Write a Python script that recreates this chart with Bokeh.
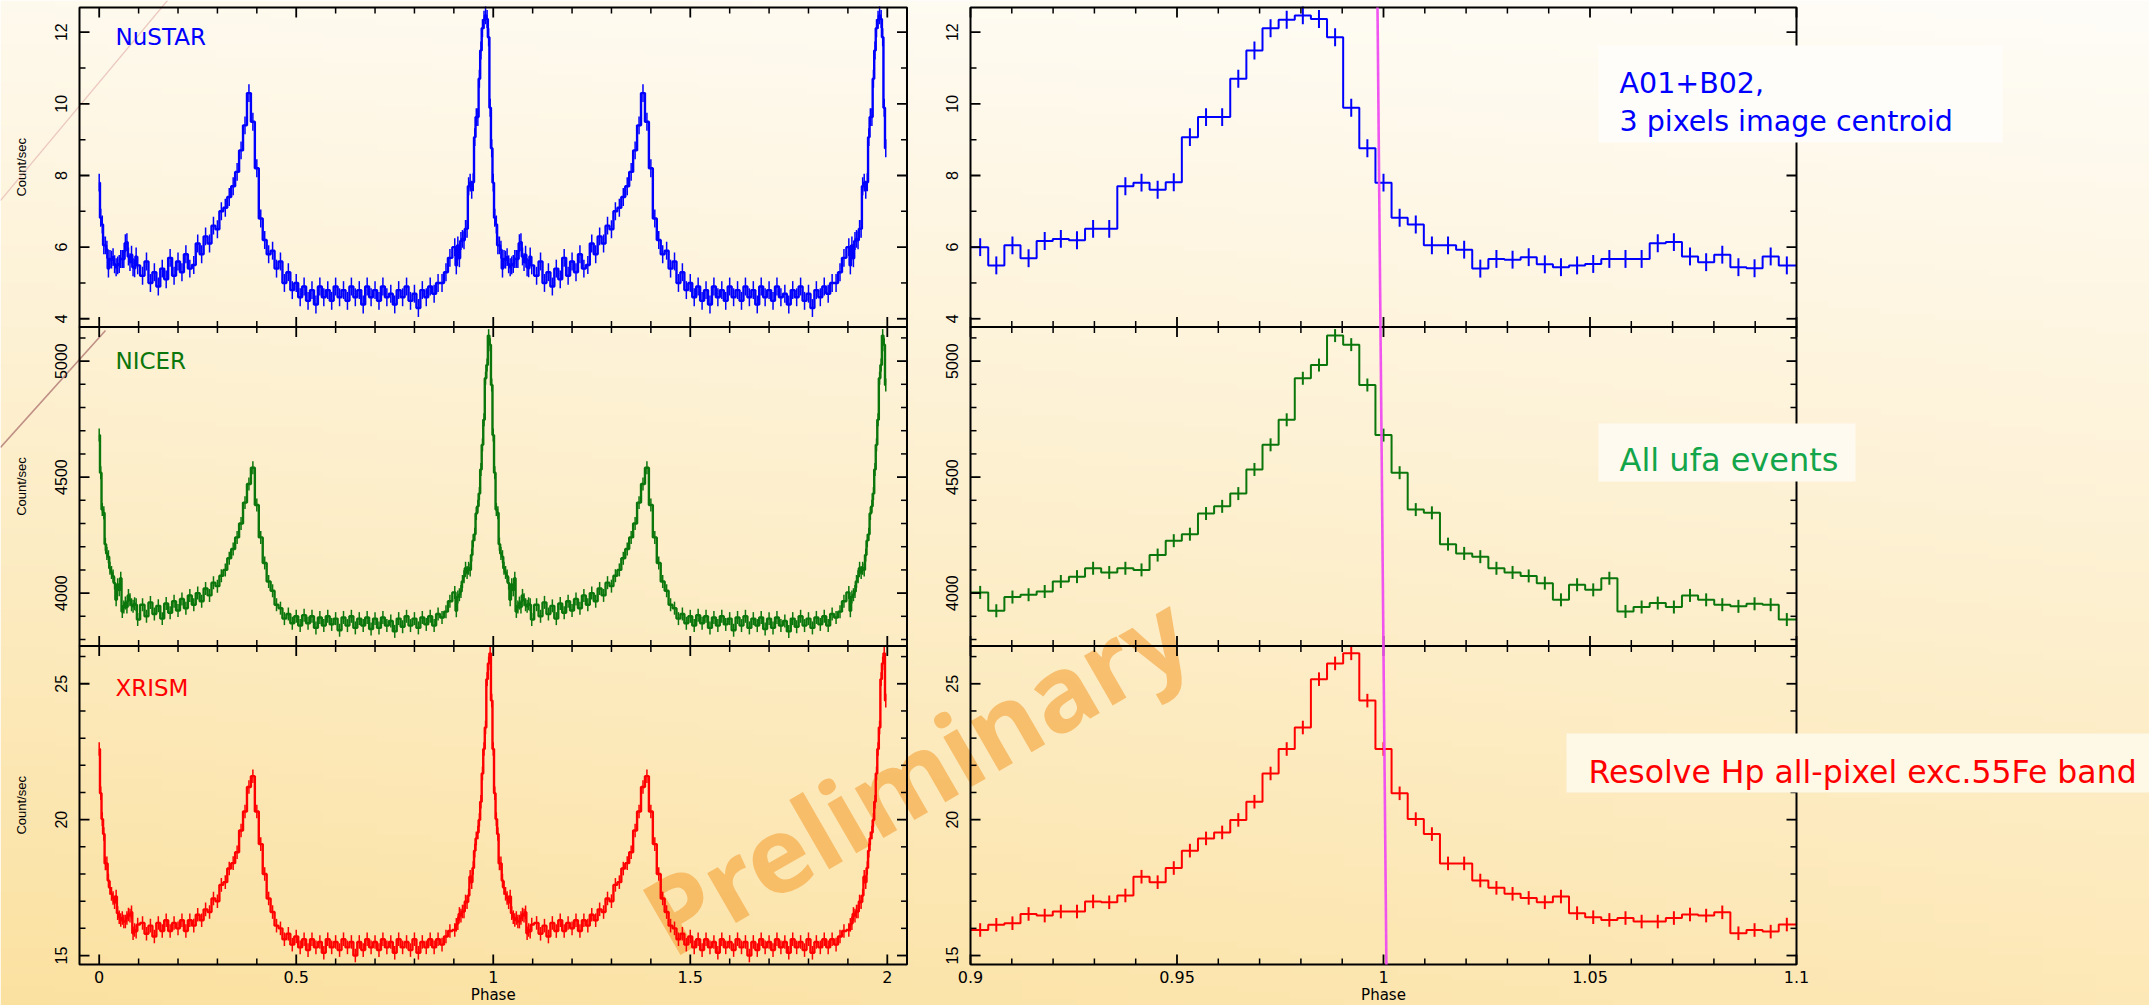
import math
import numpy as np
from bokeh.plotting import figure
from bokeh.models import Range1d
from bokeh.core.properties import value
from bokeh.embed import file_html
from bokeh.resources import INLINE

# ---------------- data ----------------
# Folded light curves, 256 phase bins per cycle (bins centred on k/256).
# Right-hand panels: bins k = 231 ... 281 (phase 0.90 - 1.10).
zoom_bin = np.arange(231, 282)
zoom_phase = zoom_bin / 256.0

nustar_zoom = [6.00, 5.49, 6.05, 5.69, 6.17, 6.23, 6.19, 6.51, 6.51, 7.70,
               7.80, 7.60, 7.81, 9.07, 9.63, 9.63, 10.70, 11.49, 12.11, 12.35,
               12.47, 12.37, 11.86, 9.89, 8.76, 7.80,
               6.82, 6.63, 6.05, 6.05, 5.93, 5.40, 5.67, 5.65, 5.72, 5.52,
               5.44, 5.49, 5.53, 5.67, 5.67, 5.67, 6.11, 6.14, 5.74, 5.58,
               5.79, 5.44, 5.41, 5.74, 5.49]
nicer_zoom = [4003, 3924, 3983, 3993, 4007, 4050, 4071, 4107, 4089, 4107,
              4100, 4164, 4226, 4254, 4343, 4374, 4429, 4533, 4639, 4747,
              4926, 4983, 5110, 5071, 4897, 4681,
              4519, 4360, 4346, 4211, 4171, 4157, 4107, 4089, 4074, 4043,
              3971, 4036, 4014, 4064, 3921, 3940, 3957, 3940, 3990, 3971,
              3950, 3943, 3954, 3950, 3886]
xrism_zoom = [15.94, 16.13, 16.19, 16.53, 16.47, 16.62, 16.62, 16.99, 16.96, 17.21,
              17.90, 17.70, 18.22, 18.86, 19.31, 19.53, 19.99, 20.66, 21.70, 22.60,
              23.39, 25.17, 25.75, 26.12, 24.38, 22.60,
              20.97, 20.02, 19.47, 18.39, 18.39, 17.76, 17.49, 17.27, 17.12, 16.96,
              17.17, 16.56, 16.41, 16.31, 16.38, 16.25, 16.25, 16.38, 16.51, 16.47,
              16.59, 15.82, 15.94, 15.88, 16.14]

# coarser reading of the rest of the cycle (phase 0.11 - 0.89)
mid_phase = np.round(np.arange(11, 90) / 100.0, 2)
nustar_mid = [5.2, 5.6, 5.0, 5.3, 4.9, 5.4, 5.1, 5.7, 5.2, 5.6,
              5.3, 5.8, 5.4, 5.5, 6.1, 5.8, 6.3, 6.1, 6.6, 6.5,
              7.0, 7.1, 7.4, 7.7, 8.1, 8.7, 9.4, 10.3, 9.5, 8.2,
              6.8, 6.2, 5.8, 5.9, 5.4, 5.6, 5.0, 5.3, 4.8, 5.0,
              4.6, 4.9, 4.5, 4.8, 4.4, 4.9, 4.6, 4.8, 4.5, 4.9,
              4.6, 4.8, 4.5, 4.9, 4.6, 4.8, 4.4, 4.9, 4.6, 4.8,
              4.5, 4.9, 4.6, 4.7, 4.4, 4.8, 4.6, 4.9, 4.5, 4.7,
              4.3, 4.8, 4.6, 4.9, 4.7, 5.0, 5.0, 5.3, 5.7]
nicer_mid = [3950, 3900, 3960, 3910, 3945, 3890, 3955, 3915, 3965, 3925,
             3975, 3935, 3990, 3950, 4000, 3965, 4020, 3990, 4045, 4030,
             4075, 4100, 4150, 4190, 4240, 4300, 4390, 4470, 4540, 4380,
             4240, 4130, 4050, 4010, 3950, 3935, 3890, 3910, 3870, 3900,
             3860, 3905, 3870, 3900, 3850, 3895, 3860, 3900, 3865, 3890,
             3840, 3895, 3860, 3900, 3850, 3890, 3860, 3895, 3845, 3890,
             3850, 3895, 3860, 3880, 3835, 3890, 3855, 3900, 3860, 3890,
             3850, 3895, 3865, 3900, 3860, 3910, 3895, 3920, 3965]
xrism_mid = [16.2, 15.8, 16.1, 15.7, 16.2, 15.9, 16.3, 15.9, 16.2, 16.0,
             16.3, 15.9, 16.3, 16.1, 16.5, 16.3, 16.7, 16.6, 17.1, 17.0,
             17.6, 17.7, 18.2, 18.4, 18.8, 19.6, 20.3, 21.2, 21.6, 20.3,
             19.1, 18.0, 17.1, 16.6, 16.1, 16.0, 15.6, 15.8, 15.4, 15.7,
             15.3, 15.6, 15.2, 15.6, 15.3, 15.5, 15.1, 15.6, 15.3, 15.5,
             15.2, 15.6, 15.3, 15.5, 15.0, 15.5, 15.2, 15.6, 15.3, 15.5,
             15.2, 15.6, 15.3, 15.5, 15.1, 15.6, 15.3, 15.5, 15.2, 15.6,
             15.1, 15.5, 15.3, 15.6, 15.3, 15.6, 15.4, 15.7, 15.9]

nustar_err = 0.25
nicer_err = 28.0
xrism_err = 0.25

instruments = ["NuSTAR", "NICER", "XRISM"]
inst_colors = ["#0000ff", "#0b760b", "#ff0000"]

x_left_ticks = [0, 0.5, 1, 1.5, 2]
x_left_labels = ["0", "0.5", "1", "1.5", "2"]
x_right_ticks = [0.9, 0.95, 1.0, 1.05, 1.1]
x_right_labels = ["0.9", "0.95", "1", "1.05", "1.1"]
y_major = [[4, 6, 8, 10, 12], [4000, 4500, 5000], [15, 20, 25]]
y_major_labels = [["4", "6", "8", "10", "12"], ["4000", "4500", "5000"], ["15", "20", "25"]]
y_minor_step = [1, 100, 1]

note_lines = [["A01+B02,", "3 pixels image centroid"], ["All ufa events"],
              ["Resolve Hp all-pixel exc.55Fe band"]]
note_colors = ["#0000ff", "#13a54a", "#ff0000"]

marker_phase_top = 0.99855   # slanted magenta marker near phase 1
marker_phase_bottom = 1.0007

# ---------------- layout (page pixels, measured from top-left) ----------------
W, H = 2149, 1005


def py(c):
    return H - c


col_px = {"xl": (79.0, 906.5), "xr": (970.0, 1796.0)}
col_lim = {"xl": (-0.05, 2.05), "xr": (0.9, 1.1)}
row_px = [(7.0, 326.5), (326.5, 645.5), (645.5, 964.0)]
row_lim = [(3.77, 12.69), (3772.0, 5147.0), (14.67, 26.39)]

p = figure(width=W, height=H, output_backend="svg", toolbar_location=None,
           x_range=Range1d(0, W), y_range=Range1d(0, H), min_border=0,
           x_axis_location=None, y_axis_location=None)
p.outline_line_color = None
p.background_fill_alpha = 0
p.border_fill_color = "#fffaf0"
p.grid.visible = False

xr = {}
for name, (a, b) in col_px.items():
    v0, v1 = col_lim[name]
    s = (b - a) / (v1 - v0)
    xr[name] = Range1d(v0 - a / s, v1 + (W - b) / s)
p.extra_x_ranges = xr
yrs = {}
for i, (t, b) in enumerate(row_px):
    v0, v1 = row_lim[i]
    s = (b - t) / (v1 - v0)
    yrs[f"y{i}"] = Range1d(v0 - (H - b) / s, v1 + t / s)
p.extra_y_ranges = yrs

# ---------------- background gradient ----------------
TL = np.array([255, 250, 238.0])
TR = np.array([255, 253, 248.0])
BL = np.array([251, 225, 160.0])
BR = np.array([253, 232, 182.0])


def bg_at(cx, cy):
    u, t = cx / W, cy / 1007.0
    return (1 - t) * ((1 - u) * TL + u * TR) + t * ((1 - u) * BL + u * BR)


ny, nx = 160, 40
img = np.empty((ny, nx), dtype=np.uint32)
view = img.view(dtype=np.uint8).reshape((ny, nx, 4))
for r in range(ny):
    cy = H * (1 - (r + 0.5) / ny)
    for c in range(nx):
        col = bg_at(W * (c + 0.5) / nx, cy)
        view[r, c, 0:3] = np.clip(col, 0, 255).astype(np.uint8)
        view[r, c, 3] = 255
p.image_rgba(image=[img], x=0, y=0, dw=W, dh=H)

# decorative slide lines at the top-left
p.segment(x0=[167, 105], y0=[py(0), py(330)], x1=[0, 0], y1=[py(200), py(447)],
          line_color=["#ecc9c0", "#bf8f86"], line_width=[1.2, 1.6])

# watermark
p.text(x=[915], y=[py(772)], text=["Preliminary"], angle=math.pi / 6,
       text_font=value("Noto Sans"), text_font_style="bold", text_font_size="105px",
       text_color="#f3a33a", text_alpha=0.62, text_align="center", text_baseline="middle")

# ---------------- curves ----------------
zoom_vals = [nustar_zoom, nicer_zoom, xrism_zoom]
mid_vals = [nustar_mid, nicer_mid, xrism_mid]
errs = [nustar_err, nicer_err, xrism_err]
hw = 0.5 / 256

for i in range(3):
    z = np.asarray(zoom_vals[i], dtype=float)
    m = np.asarray(mid_vals[i], dtype=float)
    e = errs[i]
    c = inst_colors[i]
    yname = f"y{i}"
    ph = np.concatenate([zoom_phase[25:] - 1.0, mid_phase, zoom_phase[:25]])
    v = np.concatenate([z[25:], m, z[:25]])
    ph2 = np.concatenate([ph, ph + 1.0])
    v2 = np.concatenate([v, v])
    p.segment(ph2, v2 - e, ph2, v2 + e, x_range_name="xl", y_range_name=yname,
              line_color=c, line_width=1.5)
    p.step(ph2, v2, mode="center", x_range_name="xl", y_range_name=yname,
           line_color=c, line_width=2.4)
    xs = np.repeat(zoom_phase, 2) + np.tile([-hw, hw], len(zoom_phase))
    xs[0], xs[-1] = col_lim["xr"]
    ys = np.repeat(z, 2)
    p.segment(zoom_phase, z - e, zoom_phase, z + e, x_range_name="xr", y_range_name=yname,
              line_color=c, line_width=2)
    p.line(xs, ys, x_range_name="xr", y_range_name=yname, line_color=c, line_width=2)

# ---------------- frames, ticks and tick labels ----------------
def minor_list(lo, hi, step, majors):
    n0, n1 = int(math.ceil(lo / step - 1e-9)), int(math.floor(hi / step + 1e-9))
    out = []
    for k in range(n0, n1 + 1):
        t = round(k * step, 6)
        if all(abs(t - mj) > 1e-9 for mj in majors):
            out.append(t)
    return out


col_major = {"xl": x_left_ticks, "xr": x_right_ticks}
col_labels = {"xl": x_left_labels, "xr": x_right_labels}
col_minor_step = {"xl": 0.1, "xr": 0.01}
ylab_x = {"xl": 60, "xr": 951}
MAJ, MIN = 10.0, 6.0

for cname in ["xl", "xr"]:
    x0, x1 = col_lim[cname]
    sx = (col_px[cname][1] - col_px[cname][0]) / (x1 - x0)
    xmaj = col_major[cname]
    xmin = minor_list(x0, x1, col_minor_step[cname], xmaj)
    for i in range(3):
        y0, y1 = row_lim[i]
        sy = (row_px[i][1] - row_px[i][0]) / (y1 - y0)
        yname = f"y{i}"
        kw = dict(x_range_name=cname, y_range_name=yname, line_color="black")
        p.quad(left=[x0], right=[x1], bottom=[y0], top=[y1], fill_alpha=0,
               line_width=2, **kw)
        for ticks, L, lw in ((xmaj, MAJ, 1.8), (xmin, MIN, 1.5)):
            t = np.asarray(ticks, dtype=float)
            n = len(t)
            p.segment(np.r_[t, t], np.r_[np.full(n, y0), np.full(n, y1)],
                      np.r_[t, t], np.r_[np.full(n, y0 + L / sy), np.full(n, y1 - L / sy)],
                      line_width=lw, **kw)
        ymaj = y_major[i]
        ymin = minor_list(y0, y1, y_minor_step[i], ymaj)
        for ticks, L, lw in ((ymaj, MAJ, 1.8), (ymin, MIN, 1.5)):
            t = np.asarray(ticks, dtype=float)
            n = len(t)
            p.segment(np.r_[np.full(n, x0), np.full(n, x1)], np.r_[t, t],
                      np.r_[np.full(n, x0 + L / sx), np.full(n, x1 - L / sx)], np.r_[t, t],
                      line_width=lw, **kw)
        # y tick labels (rotated)
        p.text(x=[ylab_x[cname]] * len(ymaj), y=ymaj, text=y_major_labels[i],
               y_range_name=yname, angle=math.pi / 2,
               text_font=value("Liberation Sans"), text_font_size="16px",
               text_color="black", text_align="center", text_baseline="middle")
    # x tick labels on the bottom row
    p.text(x=xmaj, y=[py(976)] * len(xmaj), text=col_labels[cname], x_range_name=cname,
           text_font=value("DejaVu Sans"), text_font_size="16px", text_color="black",
           text_align="center", text_baseline="alphabetic")

# axis titles
p.text(x=[21] * 3, y=[py((a + b) / 2) for a, b in row_px], text=["Count/sec"] * 3,
       angle=math.pi / 2, text_font=value("Liberation Sans"), text_font_size="13px",
       text_color="black", text_align="center", text_baseline="middle")
p.text(x=[sum(col_px["xl"]) / 2, sum(col_px["xr"]) / 2], y=[py(994)] * 2,
       text=["Phase", "Phase"], text_font=value("DejaVu Sans"), text_font_size="15px",
       text_color="black", text_align="center", text_baseline="alphabetic")

# instrument names
p.text(x=[115] * 3, y=[py(36.7), py(360), py(687)], text=instruments,
       text_color=inst_colors, text_font=value("DejaVu Sans"), text_font_size="23px",
       text_align="left", text_baseline="alphabetic")

# magenta marker
p.segment(x0=[marker_phase_top], y0=[py(7)], x1=[marker_phase_bottom], y1=[py(964)],
          x_range_name="xr", line_color="#f04cf0", line_width=2.6, line_alpha=0.95)

# note boxes
boxes = [(1598, 2002, 45, 142), (1598, 1855, 423, 481), (1566, 2149, 733, 792)]
baselines = [[83.3, 120.7], [459.3], [771.7]]
text_x = [1619, 1619, 1588]
note_sizes = ["28.5px", "32px", "31.5px"]
for (l, r, t, b), lines, bl, tx, c, fs in zip(boxes, note_lines, baselines, text_x,
                                               note_colors, note_sizes):
    bgc = bg_at((l + r) / 2, (t + b) / 2)
    fc = 0.4 * bgc + 0.6 * np.array([255, 255, 255.0])
    fill = "#%02x%02x%02x" % tuple(int(round(x)) for x in fc)
    p.quad(left=[l], right=[r], bottom=[py(b)], top=[py(t)], fill_color=fill, line_color=None)
    p.text(x=[tx] * len(lines), y=[py(v) for v in bl], text=lines, text_color=c,
           text_font=value("DejaVu Sans"), text_font_size=fs,
           text_align="left", text_baseline="alphabetic")

open("out.html", "w").write(file_html(p, INLINE))
